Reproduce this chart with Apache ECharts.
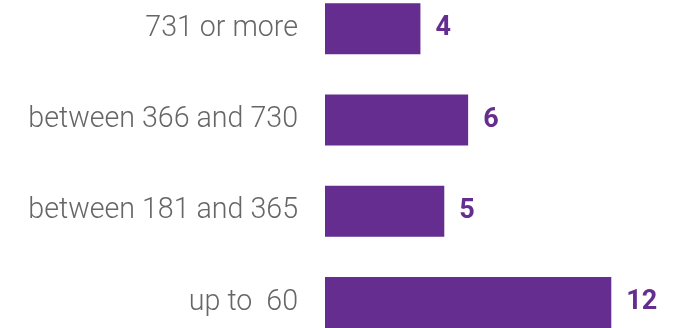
<!DOCTYPE html>
<html>
<head>
<meta charset="utf-8">
<script src="https://cdn.jsdelivr.net/npm/echarts@6/dist/echarts.min.js"></script>
<style>
  html, body { margin: 0; padding: 0; background: #ffffff; overflow: hidden; width: 680px; height: 328px; }
  /* the plot's category bands run a little past the top and bottom edges */
  #chart { position: absolute; left: 0; top: -17px; width: 680px; height: 365px; }
</style>
</head>
<body>
<div id="chart"></div>
<script>
// Day ranges, listed bottom-to-top as the category axis draws them
const categories = ['up to  60', 'between 181 and 365', 'between 366 and 730', '731 or more'];
const counts = [12, 5, 6, 4];

const PURPLE = '#642d8f';

const chart = echarts.init(document.getElementById('chart'), null, { renderer: 'canvas' });
chart.setOption({
  animation: false,
  grid: { left: 325, right: 21, top: 0, bottom: 0, containLabel: false },
  xAxis: {
    type: 'value',
    min: 0,
    max: 14,
    show: false
  },
  yAxis: {
    type: 'category',
    data: categories,
    axisLine: { show: false },
    axisTick: { show: false },
    axisLabel: {
      margin: 27,
      color: '#666666',
      fontFamily: 'Roboto',
      fontWeight: 300,
      fontSize: 28.6
    }
  },
  series: [{
    type: 'bar',
    data: counts,
    barWidth: 51,
    itemStyle: { color: PURPLE },
    label: {
      show: true,
      position: 'right',
      distance: 15,
      color: PURPLE,
      fontFamily: 'Roboto',
      fontWeight: 'bold',
      fontSize: 27
    }
  }]
});
</script>
</body>
</html>
